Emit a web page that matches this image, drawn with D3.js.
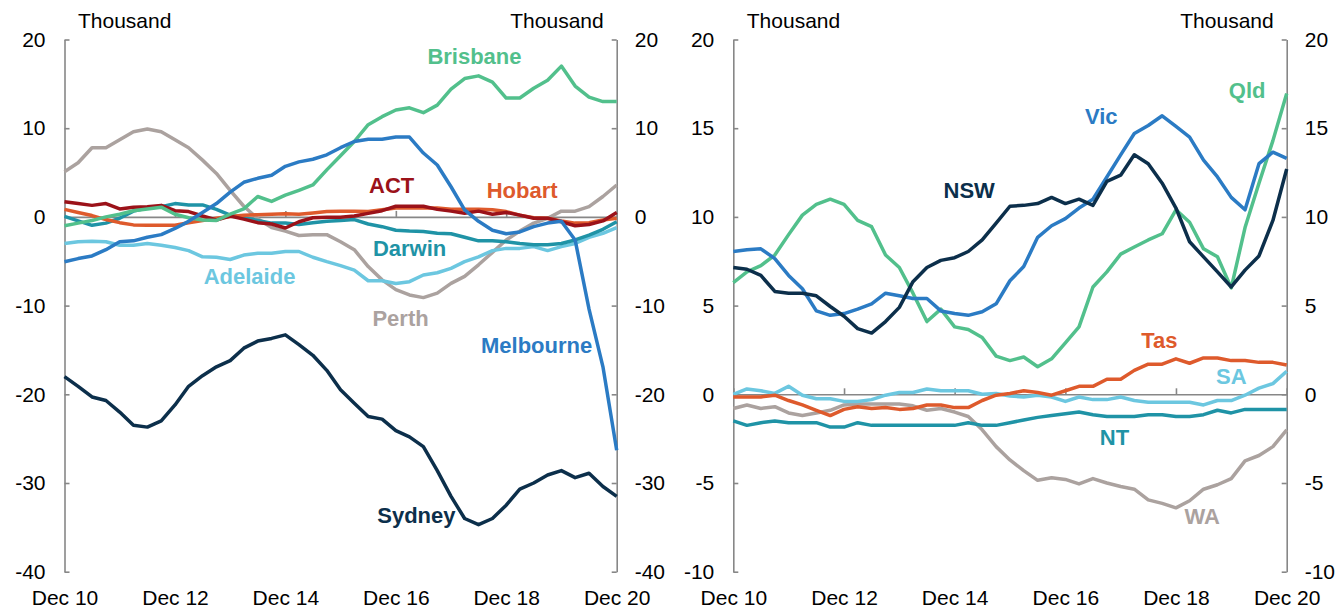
<!DOCTYPE html>
<html>
<head>
<meta charset="utf-8">
<script src="https://cdn.jsdelivr.net/npm/d3@7"></script>
<style>
  body { margin: 0; background: #fff; }
  svg text { font-family: "Liberation Sans", Arial, sans-serif; }
</style>
</head>
<body>
<div id="root"></div>
<script>
// quarterly observations, Dec 2010 .. Dec 2020 (41 points)
const quarters = d3.range(41).map(i => d3.utcMonth.offset(new Date(Date.UTC(2010, 11, 1)), 3 * i));
const tickDates = [2010, 2012, 2014, 2016, 2018, 2020].map(y => new Date(Date.UTC(y, 11, 1)));
const tickLabels = ["Dec 10", "Dec 12", "Dec 14", "Dec 16", "Dec 18", "Dec 20"];

const leftTicks = [20, 10, 0, -10, -20, -30, -40];
const rightTicks = [20, 15, 10, 5, 0, -5, -10];

// capital cities (thousand)
const sydney = [-18.0, -19.1, -20.3, -20.7, -22.0, -23.5, -23.7, -23.0, -21.2, -19.1, -17.9, -16.9, -16.2, -14.8, -14.0, -13.7, -13.3, -14.4, -15.6, -17.3, -19.5, -21.0, -22.5, -22.8, -24.1, -24.8, -25.9, -28.6, -31.5, -34.0, -34.7, -34.0, -32.5, -30.7, -30.0, -29.1, -28.6, -29.4, -28.9, -30.4, -31.5];
const melbourne = [-5.05, -4.7, -4.4, -3.7, -2.8, -2.7, -2.3, -2.0, -1.3, -0.5, 0.5, 1.5, 2.8, 3.9, 4.35, 4.7, 5.7, 6.2, 6.5, 7.0, 7.8, 8.5, 8.75, 8.75, 9.0, 9.0, 7.2, 5.85, 3.4, 0.8, -0.5, -1.5, -1.9, -1.7, -1.1, -0.7, -0.5, -2.6, -10.4, -16.9, -26.3];
const brisbane = [-1.0, -0.7, -0.4, 0.0, 0.3, 0.7, 0.9, 1.1, 0.3, -0.1, -0.35, -0.4, 0.3, 0.9, 2.3, 1.75, 2.45, 3.0, 3.6, 5.3, 6.9, 8.5, 10.4, 11.3, 12.05, 12.3, 11.75, 12.6, 14.4, 15.6, 15.9, 15.2, 13.4, 13.4, 14.5, 15.4, 17.0, 14.75, 13.5, 13.0, 13.0];
const perth = [5.1, 6.1, 7.8, 7.8, 8.7, 9.6, 9.9, 9.6, 8.7, 7.8, 6.4, 4.9, 3.0, 1.2, -0.2, -1.2, -1.6, -2.1, -2.0, -2.0, -2.8, -3.7, -5.6, -7.1, -8.2, -8.8, -9.1, -8.6, -7.5, -6.7, -5.4, -4.0, -2.6, -1.6, -0.7, -0.15, 0.65, 0.65, 1.15, 2.3, 3.6];
const adelaide = [-3.0, -2.8, -2.75, -2.8, -3.2, -3.2, -3.0, -3.2, -3.45, -3.8, -4.5, -4.55, -4.8, -4.3, -4.1, -4.1, -3.9, -3.9, -4.55, -5.05, -5.5, -6.0, -7.2, -7.2, -7.5, -7.3, -6.55, -6.3, -5.8, -5.05, -4.5, -3.8, -3.55, -3.55, -3.35, -3.8, -3.35, -3.0, -2.3, -1.85, -1.2];
const darwin = [0.05, -0.45, -0.95, -0.7, -0.15, 0.65, 1.0, 1.15, 1.5, 1.35, 1.35, 0.85, 0.2, -0.1, -0.4, -0.7, -0.7, -0.85, -0.65, -0.5, -0.4, -0.3, -0.8, -1.1, -1.5, -1.6, -1.65, -1.85, -1.9, -2.3, -2.7, -2.7, -2.8, -3.0, -3.15, -3.15, -3.0, -2.6, -2.05, -1.4, -0.55];
const act = [1.7, 1.5, 1.3, 1.5, 0.9, 1.1, 1.15, 1.3, 0.7, 0.6, 0.1, -0.35, 0.1, -0.25, -0.65, -0.8, -1.25, -0.55, -0.1, -0.05, -0.05, 0.1, 0.4, 0.7, 1.2, 1.2, 1.2, 0.85, 0.65, 0.4, 0.65, 0.3, 0.5, 0.2, -0.15, -0.15, -0.55, -1.0, -0.85, -0.45, 0.5];
const hobart = [0.85, 0.5, 0.15, -0.3, -0.65, -0.9, -0.95, -0.95, -0.95, -0.65, -0.4, -0.15, 0.05, 0.2, 0.25, 0.3, 0.35, 0.3, 0.45, 0.6, 0.65, 0.65, 0.6, 0.8, 1.0, 1.0, 1.0, 1.0, 0.85, 0.85, 0.85, 0.8, 0.6, 0.2, -0.1, -0.15, -0.45, -0.7, -0.65, -0.35, -0.15];

// states and territories (thousand)
const nsw = [7.15, 7.05, 6.7, 5.8, 5.7, 5.7, 5.55, 4.95, 4.4, 3.7, 3.45, 4.1, 4.9, 6.35, 7.15, 7.55, 7.7, 8.05, 8.7, 9.65, 10.6, 10.65, 10.75, 11.1, 10.75, 11.0, 10.65, 12.0, 12.35, 13.5, 13.0, 11.9, 10.5, 8.6, 7.75, 6.9, 6.05, 7.0, 7.8, 9.8, 12.7];
const vic = [8.05, 8.15, 8.2, 7.65, 6.7, 5.95, 4.7, 4.45, 4.55, 4.8, 5.1, 5.7, 5.55, 5.4, 5.4, 4.7, 4.55, 4.45, 4.65, 5.1, 6.4, 7.2, 8.85, 9.5, 9.9, 10.5, 11.0, 12.25, 13.5, 14.7, 15.15, 15.7, 15.1, 14.5, 13.2, 12.25, 11.1, 10.4, 13.0, 13.65, 13.3];
const qld = [6.3, 6.9, 7.25, 7.85, 9.0, 10.1, 10.7, 11.0, 10.7, 9.8, 9.45, 7.85, 7.15, 5.7, 4.1, 4.8, 3.8, 3.65, 3.2, 2.15, 1.9, 2.1, 1.55, 2.0, 2.9, 3.8, 6.05, 6.9, 7.9, 8.3, 8.7, 9.05, 10.4, 9.7, 8.2, 7.75, 6.0, 9.4, 11.9, 14.3, 16.95];
const tas = [-0.15, -0.15, -0.15, -0.05, -0.35, -0.6, -0.9, -1.2, -0.85, -0.7, -0.8, -0.75, -0.85, -0.8, -0.6, -0.6, -0.75, -0.75, -0.35, -0.05, 0.05, 0.2, 0.1, -0.05, 0.2, 0.45, 0.45, 0.85, 0.85, 1.35, 1.7, 1.7, 2.0, 1.75, 2.05, 2.05, 1.9, 1.9, 1.8, 1.8, 1.65];
const sa = [0.0, 0.3, 0.2, 0.05, 0.45, -0.05, -0.25, -0.25, -0.4, -0.4, -0.3, -0.05, 0.1, 0.1, 0.3, 0.2, 0.2, 0.2, 0.0, 0.05, -0.1, -0.15, -0.05, -0.15, -0.4, -0.15, -0.3, -0.3, -0.15, -0.35, -0.45, -0.45, -0.45, -0.45, -0.6, -0.35, -0.35, -0.05, 0.35, 0.6, 1.3];
const nt = [-1.5, -1.75, -1.6, -1.5, -1.6, -1.6, -1.6, -1.85, -1.85, -1.6, -1.75, -1.75, -1.75, -1.75, -1.75, -1.75, -1.75, -1.6, -1.75, -1.75, -1.6, -1.45, -1.3, -1.2, -1.1, -1.0, -1.15, -1.25, -1.25, -1.25, -1.15, -1.15, -1.25, -1.25, -1.15, -0.9, -1.05, -0.85, -0.85, -0.85, -0.85];
const wa = [-0.8, -0.6, -0.8, -0.7, -1.05, -1.2, -1.05, -0.9, -0.6, -0.55, -0.55, -0.55, -0.55, -0.65, -0.9, -0.8, -1.0, -1.25, -2.0, -2.95, -3.7, -4.3, -4.85, -4.7, -4.8, -5.05, -4.75, -5.0, -5.2, -5.35, -5.95, -6.15, -6.4, -6.0, -5.35, -5.1, -4.75, -3.75, -3.45, -2.95, -2.0];

const col = {
	navy: "#0c2f4b",
	blue: "#2b7bc4",
	green: "#52c08c",
	red: "#9b1219",
	orange: "#de5a2c",
	teal: "#1f93a6",
	sky: "#6cc7e0",
	grey: "#aba29f",
};

const svg = d3.select("#root").append("svg").attr("width", 1337).attr("height", 609);
const plotTop = 39.5, plotBottom = 571.7;

function styleAxis(a) {
	a.attr("font-family", null).attr("font-size", 21);
	a.selectAll(".domain, line").attr("stroke", "#878787").attr("stroke-width", 1.6);
	a.selectAll("text").attr("fill", "#000");
}

function panel(p) {
	const x = d3.scaleUtc().domain([quarters[0], quarters[40]]).range([p.x0, p.x1]);
	const y = d3.scaleLinear().domain(p.yDomain).range([plotBottom, plotTop]);
	const g = svg.append("g");

	g.append("g")
		.attr("transform", `translate(${p.x0},0)`)
		.call(d3.axisLeft(y).tickValues(p.yTicks).tickFormat(String).tickSizeInner(-5).tickSizeOuter(0).tickPadding(19))
		.call(styleAxis);
	g.append("g")
		.attr("transform", `translate(${p.x1},0)`)
		.call(d3.axisRight(y).tickValues(p.yTicks).tickFormat(String).tickSizeInner(-5).tickSizeOuter(0).tickPadding(18))
		.call(styleAxis);

	// zero line with upward ticks
	g.append("g")
		.attr("transform", `translate(0,${y(0)})`)
		.call(d3.axisBottom(x).tickValues(tickDates).tickSizeInner(-6).tickSizeOuter(0).tickFormat(""))
		.call(styleAxis);

	// date labels along the bottom
	g.append("g")
		.attr("transform", `translate(0,${plotBottom})`)
		.call(d3.axisBottom(x).tickValues(tickDates).tickSize(0).tickPadding(18.4).tickFormat((d, i) => tickLabels[i]))
		.call(styleAxis)
		.call(a => a.select(".domain").remove());

	g.append("text").attr("x", p.x0 + 13.5).attr("y", 28).attr("font-size", 21).text("Thousand");
	g.append("text").attr("x", p.x1 - 13).attr("y", 28).attr("font-size", 21).attr("text-anchor", "end").text("Thousand");

	const line = d3.line().x((d, i) => x(quarters[i])).y(d => y(d));

	p.series.forEach(s => {
		g.append("path")
			.datum(s.values)
			.attr("fill", "none")
			.attr("stroke", s.color)
			.attr("stroke-width", 3.5)
			.attr("stroke-linejoin", "round")
			.attr("d", line);
	});

	p.series.forEach(s => {
		g.append("text")
			.attr("x", x(d3.utcDay.offset(quarters[0], Math.round(s.at[0] * 91.31))))
			.attr("y", y(s.at[1]))
			.attr("dy", "0.35em")
			.attr("text-anchor", "middle")
			.attr("font-size", 22)
			.attr("font-weight", "bold")
			.attr("fill", s.color)
			.text(s.name);
	});
}

panel({
	x0: 64.5, x1: 616.7,
	yDomain: [-40, 20], yTicks: leftTicks,
	series: [
		{ name: "Perth", values: perth, color: col.grey, at: [24.35, -11.4] },
		{ name: "Adelaide", values: adelaide, color: col.sky, at: [13.4, -6.65] },
		{ name: "Darwin", values: darwin, color: col.teal, at: [25.0, -3.5] },
		{ name: "Hobart", values: hobart, color: col.orange, at: [33.15, 3.0] },
		{ name: "ACT", values: act, color: col.red, at: [23.7, 3.6] },
		{ name: "Brisbane", values: brisbane, color: col.green, at: [29.7, 18.05] },
		{ name: "Melbourne", values: melbourne, color: col.blue, at: [34.2, -14.45] },
		{ name: "Sydney", values: sydney, color: col.navy, at: [25.5, -33.6] },
	],
});

panel({
	x0: 733.3, x1: 1286.7,
	yDomain: [-10, 20], yTicks: rightTicks,
	series: [
		{ name: "WA", values: wa, color: col.grey, at: [33.9, -6.9] },
		{ name: "NT", values: nt, color: col.teal, at: [27.55, -2.4] },
		{ name: "SA", values: sa, color: col.sky, at: [36.0, 1.03] },
		{ name: "Tas", values: tas, color: col.orange, at: [30.8, 3.06] },
		{ name: "Qld", values: qld, color: col.green, at: [37.15, 17.15] },
		{ name: "Vic", values: vic, color: col.blue, at: [26.6, 15.65] },
		{ name: "NSW", values: nsw, color: col.navy, at: [17.05, 11.5] },
	],
});
</script>
</body>
</html>
